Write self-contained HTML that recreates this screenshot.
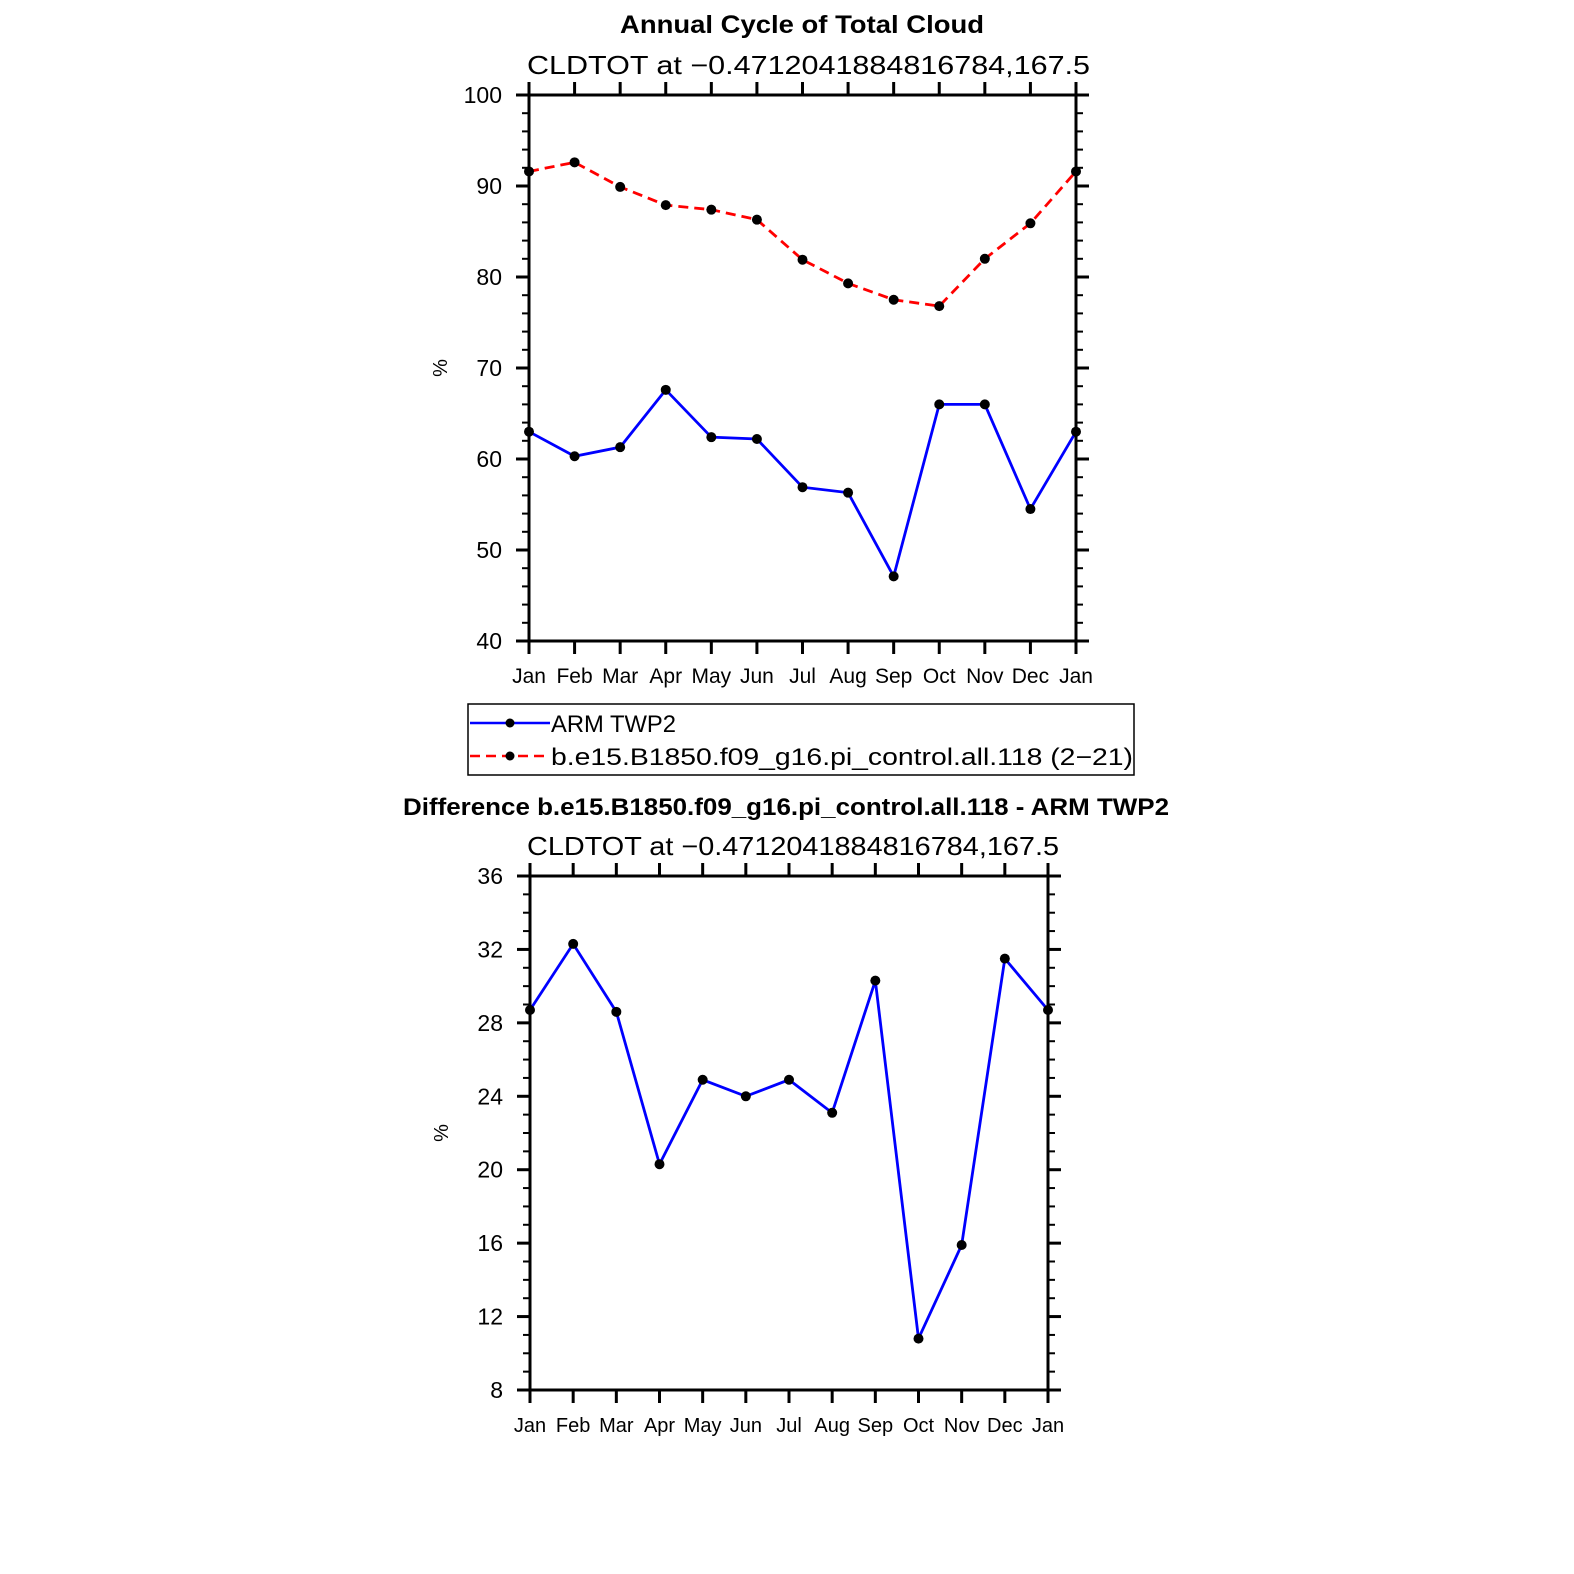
<!DOCTYPE html>
<html><head><meta charset="utf-8"><style>
html,body{margin:0;padding:0;background:#fff;}
svg{display:block;font-family:"Liberation Sans","DejaVu Sans",sans-serif;}
</style></head><body>
<svg id="chart" width="1574" height="1574" viewBox="0 0 1574 1574" xmlns="http://www.w3.org/2000/svg">
<text x="620" y="33" textLength="364" lengthAdjust="spacingAndGlyphs" font-size="25" font-weight="bold">Annual Cycle of Total Cloud</text>
<text x="527" y="74" textLength="563" lengthAdjust="spacingAndGlyphs" font-size="26">CLDTOT  at  −0.4712041884816784,167.5</text>
<text x="403" y="815" textLength="766" lengthAdjust="spacingAndGlyphs" font-size="24" font-weight="bold">Difference b.e15.B1850.f09_g16.pi_control.all.118 - ARM TWP2</text>
<text x="527" y="855" textLength="532" lengthAdjust="spacingAndGlyphs" font-size="26">CLDTOT  at  −0.4712041884816784,167.5</text>
<g>
<rect x="468" y="704" width="666" height="71" fill="none" stroke="#000" stroke-width="1.5"/>
<g>
<line x1="470" y1="723" x2="550" y2="723" stroke="#0000ff" stroke-width="2.5"/>
<circle cx="510" cy="723" r="4.5" fill="#000"/>
<text x="551" y="732" textLength="125" lengthAdjust="spacingAndGlyphs" font-size="24">ARM  TWP2</text>
</g>
<g>
<line x1="470" y1="756" x2="550" y2="756" stroke="#ff0000" stroke-width="2.5" stroke-dasharray="10,6"/>
<circle cx="510" cy="756" r="4.5" fill="#000"/>
<text x="551" y="765" textLength="582" lengthAdjust="spacingAndGlyphs" font-size="24">b.e15.B1850.f09_g16.pi_control.all.118 (2−21)</text>
</g>
</g>
<g id="top"></g>
<g id="bot"></g>
</svg>
<script>
const months = ["Jan","Feb","Mar","Apr","May","Jun","Jul","Aug","Sep","Oct","Nov","Dec","Jan"];
const armValues = [63.0,60.3,61.3,67.6,62.4,62.2,56.9,56.3,47.1,66.0,66.0,54.5,63.0];
const modelValues = [91.6,92.6,89.9,87.9,87.4,86.3,81.9,79.3,77.5,76.8,82.0,85.9,91.6];
const diffValues = [28.7,32.3,28.6,20.3,24.9,24.0,24.9,23.1,30.3,10.8,15.9,31.5,28.7];
const topYTicks = [40,50,60,70,80,90,100];
const botYTicks = [8,12,16,20,24,28,32,36];
const NS="http://www.w3.org/2000/svg";
function mk(parent,tag,attrs){const e=document.createElementNS(NS,tag);for(const k in attrs)e.setAttribute(k,attrs[k]);parent.appendChild(e);return e;}
function plot(g,L,R,T,B,ymin,ymax,yTicks,minorStep,series,prefix,monthFont,yLabelX){
  const x=i=>L+(R-L)*i/12;
  const y=v=>B-(B-T)*(v-ymin)/(ymax-ymin);
  const sw=3;
  for(let v=ymin;v<=ymax+1e-9;v+=minorStep){
    if(yTicks.includes(Math.round(v*1000)/1000))continue;
    mk(g,'line',{x1:L-7,x2:L,y1:y(v),y2:y(v),stroke:'#000','stroke-width':2});
    mk(g,'line',{x1:R,x2:R+7,y1:y(v),y2:y(v),stroke:'#000','stroke-width':2});
  }
  yTicks.forEach(v=>{
    mk(g,'line',{x1:L-13,x2:L,y1:y(v),y2:y(v),stroke:'#000','stroke-width':sw});
    mk(g,'line',{x1:R,x2:R+13,y1:y(v),y2:y(v),stroke:'#000','stroke-width':sw});
    const t=mk(g,'text',{x:yLabelX,y:y(v)+8,'text-anchor':'end','font-size':23});
    t.textContent=v;
    
    
  });
  months.forEach((m,i)=>{
    mk(g,'line',{x1:x(i),x2:x(i),y1:B,y2:B+13,stroke:'#000','stroke-width':sw});
    mk(g,'line',{x1:x(i),x2:x(i),y1:T,y2:T-13,stroke:'#000','stroke-width':sw});
    const t=mk(g,'text',{x:x(i),y:B+42,'text-anchor':'middle','font-size':monthFont});
    t.textContent=m;
    
    
  });
  const fr=mk(g,'rect',{x:L,y:T,width:R-L,height:B-T,fill:'none',stroke:'#000','stroke-width':sw});
  
  
  const yl=mk(g,'text',{x:0,y:0,'text-anchor':'middle','font-size':20,transform:`translate(${L-82},${(T+B)/2}) rotate(-90)`});
  yl.textContent='%';
  
  
  series.forEach(s=>{
    const p=mk(g,'polyline',{points:s.vals.map((v,i)=>x(i)+','+y(v)).join(' '),fill:'none',stroke:s.color,'stroke-width':2.8});
    if(s.dash)p.setAttribute('stroke-dasharray',s.dash);
    
    
    s.vals.forEach((v,i)=>{
      const c=mk(g,'circle',{cx:x(i),cy:y(v),r:5,fill:'#000'});
      
      
    });
  });
}
plot(document.getElementById('top'),529,1076,95,641,40,100,topYTicks,2,
  [{vals:armValues,color:'#0000ff',name:'arm-twp2'},{vals:modelValues,color:'#ff0000',dash:'10,6',name:'model'}],'top',21,502);
plot(document.getElementById('bot'),530,1048,876,1390,8,36,botYTicks,1,
  [{vals:diffValues,color:'#0000ff',name:'difference'}],'bottom',20,503);
</script>
</body></html>
